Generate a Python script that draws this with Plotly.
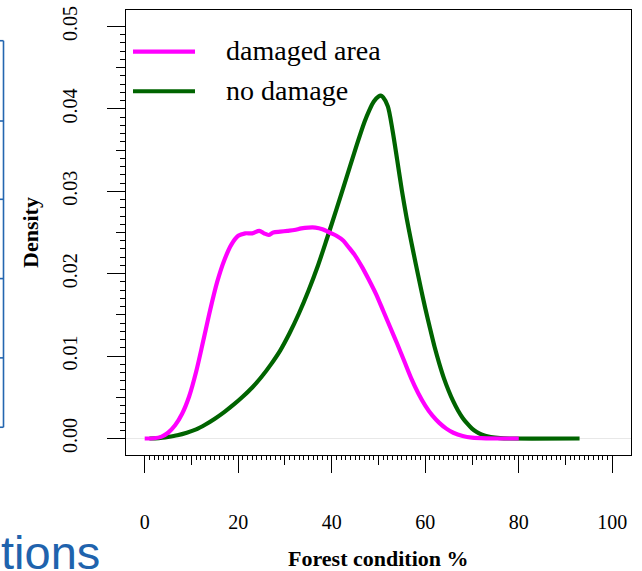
import plotly.graph_objects as go

# ---------------- data ----------------
series_names = ["damaged area", "no damage"]
series_colors = ["#ff00ff", "#006400"]

damaged_x = [0, 2, 3.5, 5, 6.5, 8, 9.5, 11, 12.5, 14, 15.5, 17, 18.5, 20, 21.5, 23, 24.5,
             25.5, 26.5, 27.5, 29, 30.5, 32, 33.5, 35, 36.5, 38, 39.5, 41, 42.5, 43.5, 45,
             46.5, 48, 49.5, 51, 52.5, 54, 55.5, 57, 58.5, 60, 61.5, 63, 64.5, 66, 68, 70,
             73, 80]
damaged_y = [0, 0.00003, 0.0002, 0.0007, 0.0016, 0.0030, 0.0051, 0.0081, 0.0118, 0.0156,
             0.0190, 0.0216, 0.0235, 0.0246, 0.0249, 0.0249, 0.0252, 0.0249, 0.0247, 0.0250,
             0.0251, 0.0252, 0.0253, 0.0255, 0.0256, 0.0256, 0.0254, 0.0250, 0.0246, 0.0240,
             0.0233, 0.0222, 0.0208, 0.0192, 0.0175, 0.0155, 0.0135, 0.0115, 0.0094, 0.0073,
             0.0055, 0.0040, 0.0028, 0.0019, 0.0012, 0.0007, 0.0003, 0.0001, 0.00002, 0]

nodamage_x = [1, 3, 5, 7, 9, 11, 13, 15, 17, 19, 21, 23, 25, 27, 29, 31, 33, 35, 37, 39,
              41, 43, 45, 47, 48, 49, 50, 50.5, 51, 52, 53, 54, 55, 56, 57, 58, 59,
              60, 61, 62, 63, 64, 65, 66, 67, 68, 69, 70, 71, 72, 73, 74, 76, 78, 93]
nodamage_y = [0, 0.00005, 0.0002, 0.0004, 0.0007, 0.0011, 0.0017, 0.0024, 0.0032, 0.0041,
              0.0051, 0.0062, 0.0075, 0.0090, 0.0107, 0.0128, 0.0152, 0.0179, 0.0209, 0.0243,
              0.0278, 0.0314, 0.0350, 0.0384, 0.0398, 0.0409, 0.0415, 0.0416, 0.0414, 0.0403,
              0.0374, 0.0338, 0.0301, 0.0268, 0.0239, 0.0211, 0.0184, 0.0158, 0.0134, 0.0111,
              0.0091, 0.0073, 0.0058, 0.0045, 0.0034, 0.0025, 0.0018, 0.0012, 0.0008, 0.0005,
              0.0003, 0.00017, 0.00004, 0, 0]

x_major_ticks = [0, 20, 40, 60, 80, 100]
y_major_ticks = [0.00, 0.01, 0.02, 0.03, 0.04, 0.05]
y_major_labels = ["0.00", "0.01", "0.02", "0.03", "0.04", "0.05"]
x_minor_ticks = list(range(0, 101))
y_minor_ticks = [i / 1000 for i in range(0, 51)]

x_title = "Forest condition %"
y_title = "Density"
side_text = "tions"

# ---------------- layout geometry ----------------
W, H = 642, 571
L, R, T, B = 126, 11, 6, 116
PW, PH = W - L - R, H - T - B


def px(x):
    return (x - L) / PW


def py(y):
    return (H - B - y) / PH


SERIF = "Liberation Serif"

fig = go.Figure()

# green drawn first, magenta on top
fig.add_trace(go.Scatter(x=nodamage_x, y=nodamage_y, mode="lines",
                         line=dict(color=series_colors[1], width=4.2, shape="spline", smoothing=0.8),
                         showlegend=False, hoverinfo="skip"))
fig.add_trace(go.Scatter(x=damaged_x, y=damaged_y, mode="lines",
                         line=dict(color=series_colors[0], width=4.2, shape="spline", smoothing=0.8),
                         showlegend=False, hoverinfo="skip"))
# dummy trace for the overlay axes
fig.add_trace(go.Scatter(x=[None], y=[None], xaxis="x2", yaxis="y2", showlegend=False))

xr = [-4, 104]
yr = [-0.002, 0.052]

fig.update_layout(
    width=W, height=H,
    margin=dict(l=L, r=R, t=T, b=B, pad=0),
    paper_bgcolor="white", plot_bgcolor="white",
    showlegend=False,
    xaxis=dict(range=xr, showgrid=False, zeroline=False,
               showline=True, mirror=True, linecolor="black", linewidth=1.2,
               tickmode="linear", tick0=0, dtick=10, ticks="outside", ticklen=9,
               tickwidth=1.2, tickcolor="black", showticklabels=False,
               minor=dict(tickmode="array", tickvals=x_minor_ticks, ticks="outside",
                          ticklen=4, tickwidth=1, tickcolor="black", showgrid=False)),
    xaxis2=dict(range=xr, overlaying="x", anchor="y", side="bottom",
                showgrid=False, zeroline=False, showline=False,
                tickmode="array", tickvals=x_major_ticks, ticks="outside", ticklen=17,
                tickwidth=1.2, tickcolor="black",
                tickfont=dict(family=SERIF, size=20, color="black"),
                ticklabelstandoff=32),
    yaxis=dict(range=yr, showgrid=False, zeroline=False,
               showline=True, mirror=True, linecolor="black", linewidth=1.2,
               tickmode="linear", tick0=0, dtick=0.005, ticks="outside", ticklen=9,
               tickwidth=1.2, tickcolor="black", showticklabels=False,
               minor=dict(tickmode="array", tickvals=y_minor_ticks, ticks="outside",
                          ticklen=5, tickwidth=1, tickcolor="black", showgrid=False)),
    yaxis2=dict(range=yr, overlaying="y", anchor="x", side="left",
                showgrid=False, zeroline=False, showline=False,
                tickmode="array", tickvals=y_major_ticks, ticktext=y_major_labels,
                ticks="outside", ticklen=18, tickwidth=1.2, tickcolor="black",
                tickangle=-90,
                tickfont=dict(family=SERIF, size=20, color="black"),
                ticklabelstandoff=22),
)

shapes = []
# faint zero line
shapes.append(dict(type="line", xref="paper", yref="y", x0=0, x1=1, y0=0, y1=0,
                   line=dict(color="#e8e8e8", width=1), layer="below"))

# legend samples
leg_y = [48, 88]
for i, name in enumerate(series_names):
    shapes.append(dict(type="line", xref="paper", yref="paper",
                       x0=px(133), x1=px(195), y0=py(leg_y[i]), y1=py(leg_y[i]),
                       line=dict(color=series_colors[i], width=4.2)))

# blue fragment of a neighbouring figure at the left edge
blue = "#2466b0"
shapes.append(dict(type="line", xref="paper", yref="paper",
                   x0=px(3.5), x1=px(3.5), y0=py(37), y1=py(427),
                   line=dict(color=blue, width=1.6)))
for yy in [37, 118, 197, 277, 357, 427]:
    shapes.append(dict(type="line", xref="paper", yref="paper",
                       x0=px(-2), x1=px(3.5), y0=py(yy), y1=py(yy),
                       line=dict(color=blue, width=1.6)))

annotations = []
for i, name in enumerate(series_names):
    annotations.append(dict(text=name, xref="paper", yref="paper",
                            x=px(224), y=py(leg_y[i] - 1), xanchor="left", yanchor="middle",
                            showarrow=False,
                            font=dict(family=SERIF, size=28, color="black")))

annotations.append(dict(text="<b>" + x_title + "</b>", xref="paper", yref="paper",
                        x=px(378), y=py(559), xanchor="center", yanchor="middle",
                        showarrow=False, font=dict(family=SERIF, size=22, color="black")))
annotations.append(dict(text="<b>" + y_title + "</b>", xref="paper", yref="paper",
                        x=px(31), y=py(231), xanchor="center", yanchor="middle",
                        textangle=-90, showarrow=False,
                        font=dict(family=SERIF, size=22, color="black")))
annotations.append(dict(text=side_text, xref="paper", yref="paper",
                        x=px(-1), y=py(553), xanchor="left", yanchor="middle",
                        showarrow=False,
                        font=dict(family="Liberation Sans", size=47, color="#1f63ad")))

fig.update_layout(shapes=shapes, annotations=annotations)

fig.write_html("out.html")
